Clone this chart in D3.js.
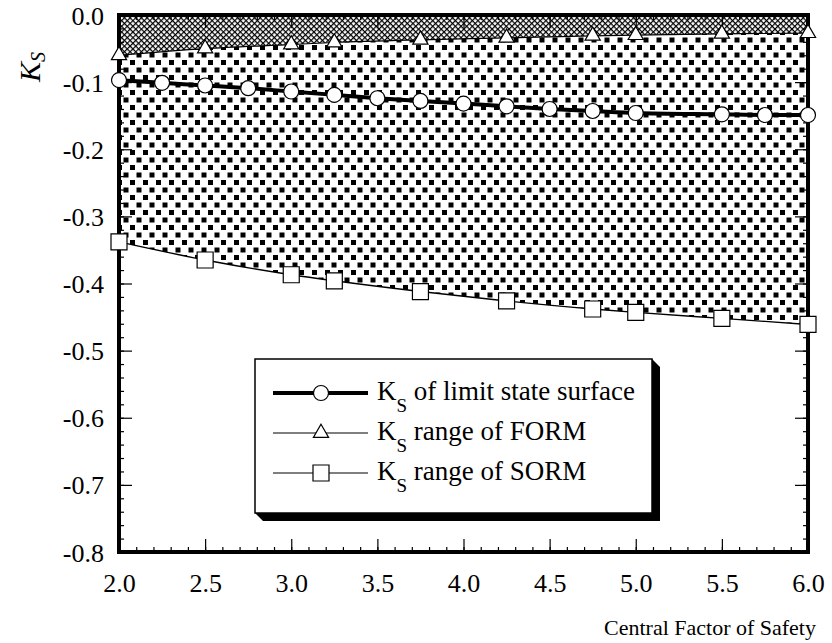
<!DOCTYPE html>
<html>
<head>
<meta charset="utf-8">
<script src="https://cdn.jsdelivr.net/npm/d3@7"></script>
<style>
  body { margin: 0; background: #fff; }
  svg { display: block; }
</style>
</head>
<body>
<svg id="chart" width="832" height="643"></svg>
<script>
// K_S of the limit state surface
const limitX  = [2.0, 2.25, 2.5, 2.75, 3.0, 3.25, 3.5, 3.75, 4.0, 4.25, 4.5, 4.75, 5.0, 5.5, 5.75, 6.0];
const limitKs = [-0.097, -0.101, -0.105, -0.109, -0.114, -0.119, -0.124, -0.128, -0.132, -0.136, -0.140, -0.143, -0.146, -0.148, -0.149, -0.149];
// K_S range bound from FORM
const formX  = [2.0, 2.5, 3.0, 3.25, 3.75, 4.25, 4.75, 5.0, 5.5, 6.0];
const formKs = [-0.060, -0.050, -0.044, -0.041, -0.037, -0.034, -0.031, -0.030, -0.028, -0.027];
// K_S range bound from SORM
const sormX  = [2.0, 2.5, 3.0, 3.25, 3.75, 4.25, 4.75, 5.0, 5.5, 6.0];
const sormKs = [-0.338, -0.365, -0.387, -0.396, -0.412, -0.426, -0.438, -0.443, -0.452, -0.461];

const xTicks = [2.0, 2.5, 3.0, 3.5, 4.0, 4.5, 5.0, 5.5, 6.0];
const yTicks = [0.0, -0.1, -0.2, -0.3, -0.4, -0.5, -0.6, -0.7, -0.8];
const legendLabels = [" of limit state surface", " range of FORM", " range of SORM"];

const SERIF = '"Liberation Serif", "Times New Roman", Times, "DejaVu Serif", serif';

const svg = d3.select("#chart").style("font-family", SERIF);
const P = { left: 119, right: 808, top: 15, bottom: 552 };

const x = d3.scaleLinear().domain([2, 6]).range([P.left, P.right]);
const y = d3.scaleLinear().domain([-0.8, 0]).range([P.bottom, P.top]);

const defs = svg.append("defs");
// fine cross-hatch above the FORM bound
const hatch = defs.append("pattern").attr("id", "hatch")
  .attr("patternUnits", "userSpaceOnUse").attr("width", 4).attr("height", 4)
  .attr("patternTransform", "rotate(45)");
hatch.append("rect").attr("width", 4).attr("height", 4).attr("fill", "#fff");
hatch.append("path").attr("d", "M0,0.6H4M0.6,0V4").attr("stroke", "#000").attr("stroke-width", 1.2);

// staggered square dots between FORM and SORM bounds
const dots = defs.append("pattern").attr("id", "dots")
  .attr("patternUnits", "userSpaceOnUse").attr("width", 13).attr("height", 15);
dots.append("rect").attr("width", 13).attr("height", 15).attr("fill", "#fff");
dots.append("rect").attr("x", 0).attr("y", 0).attr("width", 5).attr("height", 5).attr("fill", "#000");
dots.append("rect").attr("x", 6.5).attr("y", 7.5).attr("width", 5).attr("height", 5).attr("fill", "#000");

defs.append("clipPath").attr("id", "plotClip").append("rect")
  .attr("x", P.left).attr("y", P.top)
  .attr("width", P.right - P.left).attr("height", P.bottom - P.top);

const formPts = formX.map((v, i) => ({ x: v, k: formKs[i] }));
const sormPts = sormX.map((v, i) => ({ x: v, k: sormKs[i], f: formKs[i] }));
const limitPts = limitX.map((v, i) => ({ x: v, k: limitKs[i] }));

const fill = svg.append("g").attr("clip-path", "url(#plotClip)");
fill.append("path").datum(formPts)
  .attr("fill", "url(#hatch)")
  .attr("d", d3.area().x(d => x(d.x)).y0(y(0)).y1(d => y(d.k)).curve(d3.curveMonotoneX));
fill.append("path").datum(sormPts)
  .attr("fill", "url(#dots)")
  .attr("d", d3.area().x(d => x(d.x)).y0(d => y(d.k)).y1(d => y(d.f)).curve(d3.curveMonotoneX));

// axes: major and minor ticks on all four sides, pointing inward
const minorX = d3.range(20, 61).map(v => v / 10);
const minorY = d3.range(-40, 1).map(v => v / 50);
const fmt = d => d.toFixed(1);

function styleAxis(g) {
  g.select(".domain").remove();
  g.attr("font-family", null).attr("font-size", null);
  g.selectAll(".tick line").attr("stroke", "#000").attr("stroke-width", 1.2);
  g.selectAll(".tick text").attr("fill", "#000")
    .style("font-family", SERIF).style("font-size", "26px");
}

svg.append("g").attr("transform", `translate(0,${P.bottom})`)
  .call(d3.axisBottom(x).tickValues(minorX).tickSize(-5).tickFormat("")).call(styleAxis);
const xAx = svg.append("g").attr("transform", `translate(0,${P.bottom})`)
  .call(d3.axisBottom(x).tickValues(xTicks).tickSize(-13).tickFormat(fmt)).call(styleAxis);
xAx.selectAll(".tick text").attr("y", 40).attr("dy", null);

svg.append("g").attr("transform", `translate(0,${P.top})`)
  .call(d3.axisTop(x).tickValues(minorX).tickSize(-5).tickFormat("")).call(styleAxis);
svg.append("g").attr("transform", `translate(0,${P.top})`)
  .call(d3.axisTop(x).tickValues(xTicks).tickSize(-13).tickFormat("")).call(styleAxis);

svg.append("g").attr("transform", `translate(${P.left},0)`)
  .call(d3.axisLeft(y).tickValues(minorY).tickSize(-5).tickFormat("")).call(styleAxis);
const yAx = svg.append("g").attr("transform", `translate(${P.left},0)`)
  .call(d3.axisLeft(y).tickValues(yTicks).tickSize(-13).tickFormat(fmt)).call(styleAxis);
yAx.selectAll(".tick text").attr("x", -15).attr("dy", "0.35em");

svg.append("g").attr("transform", `translate(${P.right},0)`)
  .call(d3.axisRight(y).tickValues(minorY).tickSize(-5).tickFormat("")).call(styleAxis);
svg.append("g").attr("transform", `translate(${P.right},0)`)
  .call(d3.axisRight(y).tickValues(yTicks).tickSize(-13).tickFormat("")).call(styleAxis);

// boundary curves
svg.append("path").datum(formPts).attr("clip-path", "url(#plotClip)")
  .attr("fill", "none").attr("stroke", "#000").attr("stroke-width", 1.2)
  .attr("d", d3.line().x(d => x(d.x)).y(d => y(d.k)).curve(d3.curveMonotoneX));
svg.append("path").datum(sormPts)
  .attr("fill", "none").attr("stroke", "#000").attr("stroke-width", 1.4)
  .attr("d", d3.line().x(d => x(d.x)).y(d => y(d.k)).curve(d3.curveMonotoneX));
svg.append("path").datum(limitPts)
  .attr("fill", "none").attr("stroke", "#000").attr("stroke-width", 4)
  .attr("d", d3.line().x(d => x(d.x)).y(d => y(d.k)).curve(d3.curveMonotoneX));

// plot frame
svg.append("rect").attr("x", P.left).attr("y", P.top)
  .attr("width", P.right - P.left).attr("height", P.bottom - P.top)
  .attr("fill", "none").attr("stroke", "#000").attr("stroke-width", 4);

// markers
const triSym = d3.symbol(d3.symbolTriangle, 100);
const sqSym = d3.symbol(d3.symbolSquare, 256);

svg.append("g").selectAll("path").data(formPts).join("path")
  .attr("transform", d => `translate(${x(d.x)},${y(d.k)})`)
  .attr("d", triSym).attr("fill", "#fff").attr("stroke", "#000").attr("stroke-width", 1.2);
svg.append("g").selectAll("path").data(sormPts).join("path")
  .attr("transform", d => `translate(${x(d.x)},${y(d.k)})`)
  .attr("d", sqSym).attr("fill", "#fff").attr("stroke", "#000").attr("stroke-width", 1.2);
svg.append("g").selectAll("circle").data(limitPts).join("circle")
  .attr("cx", d => x(d.x)).attr("cy", d => y(d.k)).attr("r", 7.5)
  .attr("fill", "#fff").attr("stroke", "#000").attr("stroke-width", 1.2);

// axis titles
const yTitle = svg.append("text")
  .attr("transform", "translate(40,82) rotate(-90)")
  .style("font-family", SERIF).style("font-style", "italic");
yTitle.append("tspan").style("font-size", "30px").text("K");
yTitle.append("tspan").attr("dy", 5).style("font-size", "20px").text("S");

svg.append("text").attr("x", 816).attr("y", 635).attr("text-anchor", "end")
  .style("font-family", SERIF).style("font-size", "22px").text("Central Factor of Safety");

// legend with drop shadow
const L = { x0: 255, y0: 359, x1: 652, y1: 513, dx: 8, dy: 8 };
svg.append("path")
  .attr("d", `M${L.x0},${L.y1}L${L.x0 + L.dx},${L.y1 + L.dy}L${L.x1 + L.dx},${L.y1 + L.dy}L${L.x1 + L.dx},${L.y0 + L.dy}L${L.x1},${L.y0}Z`)
  .attr("fill", "#000");
svg.append("rect").attr("x", L.x0).attr("y", L.y0)
  .attr("width", L.x1 - L.x0).attr("height", L.y1 - L.y0)
  .attr("fill", "#fff").attr("stroke", "#000").attr("stroke-width", 1.5);

const rowsY = [393, 433, 473];
const lineW = [4, 1.2, 1.2];
const markers = ["circle", "triangle", "square"];
rowsY.forEach((ry, i) => {
  const g = svg.append("g");
  g.append("line").attr("x1", 273).attr("x2", 368).attr("y1", ry).attr("y2", ry)
    .attr("stroke", "#000").attr("stroke-width", lineW[i]);
  if (markers[i] === "circle") {
    g.append("circle").attr("cx", 321).attr("cy", ry).attr("r", 7.5)
      .attr("fill", "#fff").attr("stroke", "#000").attr("stroke-width", 1.2);
  } else {
    g.append("path").attr("transform", `translate(321,${ry})`)
      .attr("d", markers[i] === "triangle" ? triSym : sqSym)
      .attr("fill", "#fff").attr("stroke", "#000").attr("stroke-width", 1.2);
  }
  const t = g.append("text").attr("x", 377).attr("y", ry + 7)
    .style("font-family", SERIF).style("font-size", "27px");
  t.append("tspan").text("K");
  t.append("tspan").attr("dy", 12).style("font-size", "19px").text("S");
  t.append("tspan").attr("dy", -12).text(legendLabels[i]);
});
</script>
</body>
</html>
